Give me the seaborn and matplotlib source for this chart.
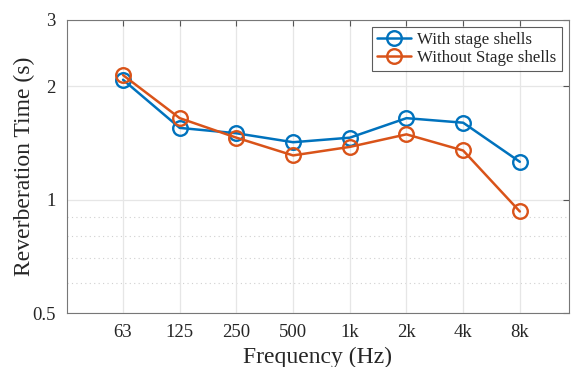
import pandas as pd
import matplotlib.pyplot as plt
import seaborn as sns
from matplotlib.ticker import FixedLocator, NullFormatter, NullLocator

# valores
frecuencias = ['63', '125', '250', '500', '1k', '2k', '4k', '8k']
con_conchas = [2.08, 1.55, 1.50, 1.42, 1.46, 1.645, 1.60, 1.26]
sin_conchas = [2.14, 1.645, 1.46, 1.31, 1.38, 1.49, 1.35, 0.93]
series = ['With stage shells', 'Without Stage shells']
colores = ['#0072BD', '#D95319']

df = pd.DataFrame({
    'Frecuencia': frecuencias * 2,
    'RT': con_conchas + sin_conchas,
    'Serie': [series[0]] * len(frecuencias) + [series[1]] * len(frecuencias),
})

sns.set_style('white')
plt.rcParams['font.family'] = ['Liberation Serif', 'DejaVu Serif']

fig = plt.figure(figsize=(5.72, 3.67), dpi=100)
ax = fig.add_axes([0.117, 0.147, 0.877, 0.799])

sns.lineplot(data=df, x='Frecuencia', y='RT', hue='Serie', sort=False,
             palette=colores, marker='o', markersize=10.5,
             linewidth=1.8, ax=ax)

# marcadores huecos como en MATLAB
for ln in ax.lines:
    ln.set_markerfacecolor('none')
    ln.set_markeredgecolor(ln.get_color())
    ln.set_markeredgewidth(1.7)

ax.set_yscale('log')
ax.set_ylim(0.5, 3)
ax.set_xlim(-0.99, 7.86)
ax.yaxis.set_major_locator(FixedLocator([0.5, 1, 2, 3]))
ax.yaxis.set_major_formatter(plt.FuncFormatter(lambda v, p: f'{v:g}'))
ax.yaxis.set_minor_locator(NullLocator())
ax.yaxis.set_minor_formatter(NullFormatter())

ax.grid(True, which='major', color='#e6e6e6', linewidth=0.9)
for v in [0.6, 0.7, 0.8, 0.9]:
    ax.axhline(v, color='#d0d0d0', linestyle=(0, (1, 3)), linewidth=0.8, zorder=0)

ax.tick_params(direction='in', top=True, right=True, length=4,
               color='#555555', labelsize=13.5, pad=8)
for s in ax.spines.values():
    s.set_color('#777777')
    s.set_linewidth(0.8)

ax.set_xlabel('Frequency (Hz)', fontsize=17)
ax.set_ylabel('Reverberation Time (s)', fontsize=17, labelpad=-2)

leg = ax.legend(loc='upper right', fontsize=12.2, frameon=True, fancybox=False,
                borderaxespad=0.4, handlelength=2.0, handletextpad=0.4,
                borderpad=0.3, labelspacing=0.15)
leg.get_frame().set_edgecolor('#333333')
leg.get_frame().set_linewidth(0.8)
for h in leg.get_lines():
    h.set_marker('o')
    h.set_markersize(10.5)
    h.set_markerfacecolor('none')
    h.set_markeredgecolor(h.get_color())
    h.set_markeredgewidth(1.7)

plt.savefig('out.png', dpi=100)
